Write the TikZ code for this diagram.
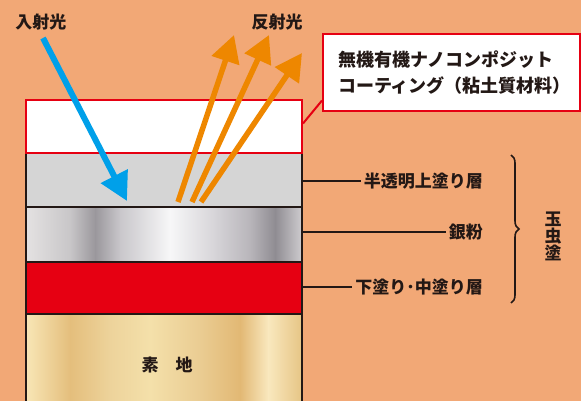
\documentclass[tikz,border=0pt]{standalone}
\usepackage{fontspec}
\setmainfont{Noto Sans CJK JP}
\usepackage{tikz}
\usetikzlibrary{positioning}
\usetikzlibrary{arrows.meta}
\usetikzlibrary{decorations.pathreplacing}

\definecolor{bgpeach}{HTML}{F2A876}
\definecolor{inkdark}{HTML}{231815}
\definecolor{rayblue}{HTML}{00A0E9}
\definecolor{rayorange}{HTML}{EE8700}
\definecolor{coatred}{HTML}{E60012}
\definecolor{cleargrey}{HTML}{D5D5D5}

\tikzset{
  layer/.style={draw=inkdark, line width=2pt, minimum width=276pt, inner sep=0pt},
  lbl/.style={text=inkdark, font=\fontsize{17}{20}\selectfont\bfseries, inner sep=3pt},
  leader/.style={draw=inkdark, line width=2pt},
  inray/.style={rayblue, line width=6pt, -{Triangle[length=28pt, width=29pt]}},
  outray/.style={rayorange, line width=5.5pt, -{Triangle[length=27pt, width=28pt]}}
}

\begin{document}
\begin{tikzpicture}[x=1pt, y=-1pt]
  \useasboundingbox (0,0) rectangle (581,401);
  \fill[bgpeach] (0,0) rectangle (581,401);

  % silver powder shading
  \foreach \xa/\xb/\ca/\cb in {26/70/E4E2E2/C8C6C8, 70/95/C8C6C8/9A979C, 95/120/9A979C/C9C7CB,
      120/170/C9C7CB/F7F7F8, 170/215/F7F7F8/D6D4D8, 215/250/D6D4D8/B8B5BA,
      250/275/B8B5BA/8F8C92, 275/302/8F8C92/CFCDD0}{
    \definecolor{ca}{HTML}{\ca}\definecolor{cb}{HTML}{\cb}
    \shade[left color=ca, right color=cb] (\xa,207) rectangle (\xb+0.5,262);
  }
  % ground shading
  \foreach \xa/\xb/\ca/\cb in {26/70/F8E6B6/E4BE7C, 70/110/E4BE7C/EDD39B, 110/150/EDD39B/F4E0AA,
      150/200/F4E0AA/EACC92, 200/240/EACC92/E2B874, 240/268/E2B874/F9E8BE,
      268/302/F9E8BE/E6C484}{
    \definecolor{ca}{HTML}{\ca}\definecolor{cb}{HTML}{\cb}
    \shade[left color=ca, right color=cb] (\xa,314) rectangle (\xb+0.5,410);
  }

  % layers
  \node[layer, fill=cleargrey, minimum height=54pt] (clear) at (164,180) {};
  \node[layer, minimum height=55pt] (silver) at (164,234.5) {};
  \node[layer, fill=coatred, minimum height=52pt] (base) at (164,288) {};
  \node[layer, minimum height=96pt] (ground) at (164,362) {};
  \node[layer, draw=coatred, fill=white, minimum height=53pt] (coat) at (164,126.5) {};
  \node[lbl] (groundlbl) at (167,365) {素　地};

  % rays
  \coordinate (inStart) at (43,38);
  \coordinate (inEnd) at (127,201);
  \draw[inray] (inStart) -- (inEnd);
  \coordinate (outA) at (178,202);
  \coordinate (outB) at (192,202);
  \coordinate (outC) at (201,202);
  \coordinate (tipA) at (234,35);
  \coordinate (tipB) at (269,35);
  \coordinate (tipC) at (302,53);
  \draw[outray] (outA) -- (tipA);
  \draw[outray] (outB) -- (tipB);
  \draw[outray] (outC) -- (tipC);
  \node[lbl] (inlbl) at (41,22) {入射光};
  \node[lbl] (outlbl) at (277,22) {反射光};

  % callout
  \node[draw=coatred, line width=2pt, fill=white, minimum width=257pt, minimum height=77pt,
        align=left, text=inkdark, font=\fontsize{18}{26}\selectfont\bfseries] (callout) at (451.5,73)
        {\hspace*{6pt}無機有機ナノコンポジット\\\hspace*{6pt}コーティング（粘土質材料）};
  \draw[coatred, line width=2pt] ([yshift=3pt]coat.east) -- ([yshift=12pt]callout.south west);

  % layer labels
  \node[lbl, anchor=east] (clearlbl) at (486,181) {半透明上塗り層};
  \node[lbl, anchor=east] (silverlbl) at (486,232) {銀粉};
  \node[lbl, anchor=east] (baselbl) at (486,287) {下塗り･中塗り層};
  \draw[leader] (clear.east |- clearlbl) -- (clearlbl.west);
  \draw[leader] (silver.east |- silverlbl) -- (silverlbl.west);
  \draw[leader] (base.east |- baselbl) -- (baselbl.west);

  % brace
  \coordinate (braceTop) at (511,155);
  \coordinate (braceBot) at (511,303);
  \draw[inkdark, line width=1.6pt, decorate, decoration={brace, amplitude=8pt}] (braceTop) -- (braceBot);
  \node[lbl, align=center, font=\fontsize{17}{17}\selectfont\bfseries] (tamamushi) at (553,236) {玉\\虫\\塗};
\end{tikzpicture}
\end{document}
